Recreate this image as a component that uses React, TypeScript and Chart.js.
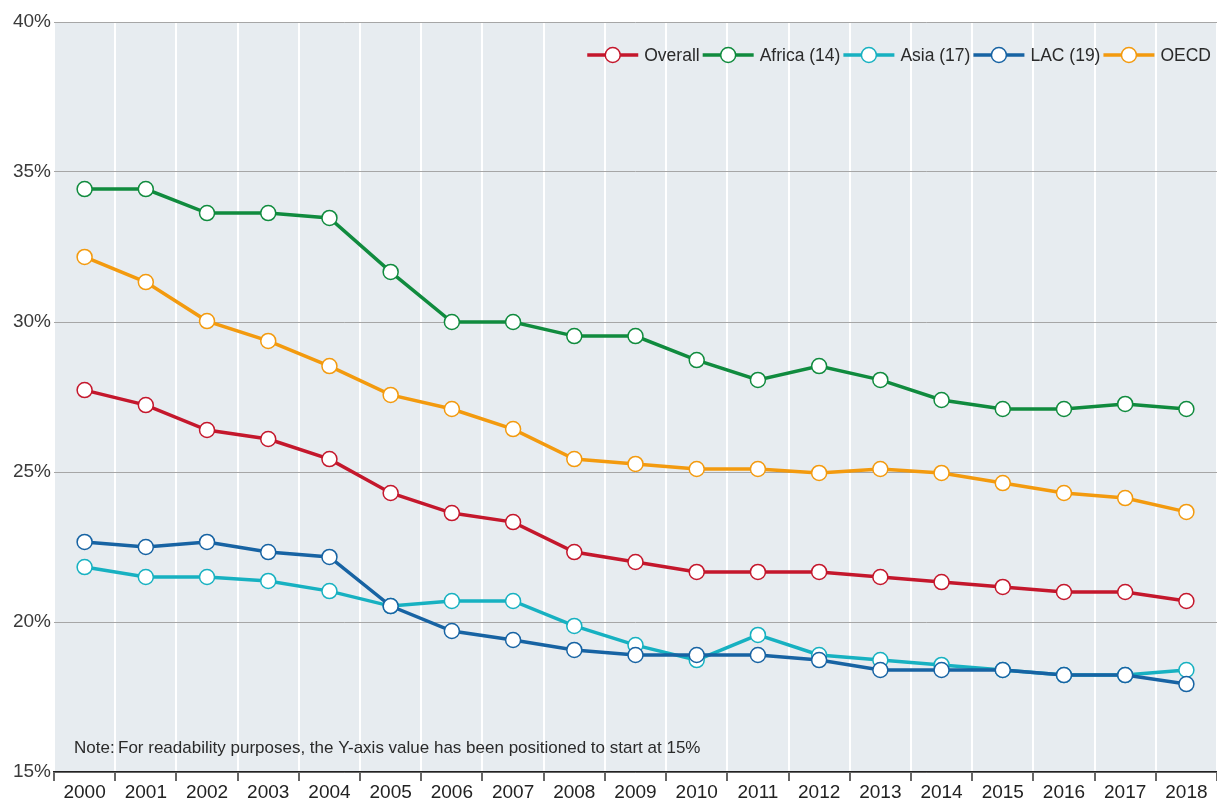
import React, { useEffect, useRef } from "react";
import { Chart, registerables } from "chart.js";

Chart.register(...registerables);

const years = ["2000","2001","2002","2003","2004","2005","2006","2007","2008","2009","2010","2011","2012","2013","2014","2015","2016","2017","2018"];
const overall = [27.73,27.23,26.4,26.1,25.43,24.3,23.63,23.33,22.33,22.0,21.67,21.67,21.67,21.5,21.33,21.17,21.0,21.0,20.7];
const africa = [34.43,34.43,33.63,33.63,33.47,31.67,30.0,30.0,29.53,29.53,28.73,28.07,28.53,28.07,27.4,27.1,27.1,27.27,27.1];
const asia = [21.83,21.5,21.5,21.37,21.03,20.53,20.7,20.7,19.87,19.23,18.73,19.57,18.9,18.73,18.57,18.4,18.23,18.23,18.4];
const lac = [22.67,22.5,22.67,22.33,22.17,20.53,19.7,19.4,19.07,18.9,18.9,18.9,18.73,18.4,18.4,18.4,18.23,18.23,17.93];
const oecd = [32.17,31.33,30.03,29.37,28.53,27.57,27.1,26.43,25.43,25.27,25.1,25.1,24.97,25.1,24.97,24.63,24.3,24.13,23.67];
const yTicks = [15, 20, 25, 30, 35, 40];
const noteText = "Note:\u2009For readability purposes, the Y-axis value has been positioned to start at 15%";

const FONT = "'Liberation Sans', Arial, Helvetica, sans-serif";

const series = [
  { label: "Overall", data: overall, color: "#c4172c", order: 3 },
  { label: "Africa (14)", data: africa, color: "#108b3e", order: 4 },
  { label: "Asia (17)", data: asia, color: "#17b1c1", order: 2 },
  { label: "LAC (19)", data: lac, color: "#1763a3", order: 1 },
  { label: "OECD", data: oecd, color: "#f39a0e", order: 5 },
];

const bgPlugin = {
  id: "bgPlugin",
  beforeDraw(chart: any) {
    const { ctx, chartArea } = chart;
    ctx.save();
    ctx.fillStyle = "#e7ecf0";
    ctx.fillRect(chartArea.left, chartArea.top, chartArea.right - chartArea.left, chartArea.bottom - chartArea.top);
    ctx.restore();
  },
};

const legendNotePlugin = {
  id: "legendNote",
  afterDraw(chart: any) {
    const { ctx, chartArea } = chart;
    ctx.save();
    // note
    ctx.font = `17px ${FONT}`;
    ctx.fillStyle = "#2a2a2a";
    ctx.textBaseline = "middle";
    ctx.textAlign = "left";
    ctx.fillText(noteText, chartArea.left + 20, 748);
    // legend
    ctx.font = `17.5px ${FONT}`;
    const lineW = 51;
    const gap1 = 6;
    const gap2 = 3;
    const widths = series.map((s) => ctx.measureText(s.label).width);
    let total = 0;
    widths.forEach((w, i) => {
      total += lineW + gap1 + w + (i < widths.length - 1 ? gap2 : 0);
    });
    let x = 1211 - total;
    const y = 55;
    series.forEach((s, i) => {
      ctx.strokeStyle = s.color;
      ctx.lineWidth = 3.5;
      ctx.beginPath();
      ctx.moveTo(x, y);
      ctx.lineTo(x + lineW, y);
      ctx.stroke();
      ctx.beginPath();
      ctx.arc(x + lineW / 2, y, 7.5, 0, Math.PI * 2);
      ctx.fillStyle = "#fff";
      ctx.fill();
      ctx.lineWidth = 1.5;
      ctx.stroke();
      ctx.fillStyle = "#2a2a2a";
      ctx.fillText(s.label, x + lineW + gap1, y + 1);
      x += lineW + gap1 + widths[i] + gap2;
    });
    ctx.restore();
  },
};

export default function App() {
  const ref = useRef<HTMLCanvasElement>(null);
  useEffect(() => {
    document.body.style.margin = "0";
    const chart = new Chart(ref.current!, {
      type: "line",
      data: {
        labels: years,
        datasets: series.map((s) => ({
          label: s.label,
          data: s.data,
          borderColor: s.color,
          backgroundColor: "#ffffff",
          pointBackgroundColor: "#ffffff",
          pointBorderColor: s.color,
          pointBorderWidth: 1.5,
          pointRadius: 7.5,
          borderWidth: 3.5,
          tension: 0,
          order: s.order,
          clip: false as any,
        })),
      },
      options: {
        responsive: false,
        animation: false,
        layout: { autoPadding: false, padding: { top: 22, right: 0, left: 0, bottom: 0 } },
        plugins: { legend: { display: false }, tooltip: { enabled: false } },
        scales: {
          x: {
            offset: true,
            grid: {
              offset: true,
              color: "#ffffff",
              lineWidth: 2,
              tickColor: "#333333",
              tickLength: 9,
              tickWidth: 1.5,
              drawOnChartArea: true,
            },
            border: { color: "#222222", width: 1.5 },
            ticks: {
              color: "#222222",
              font: { family: FONT, size: 19 },
              padding: 0,
              maxRotation: 0,
              autoSkip: false,
            },
            afterFit(scale: any) {
              scale.height = 28;
              scale.paddingLeft = 0;
              scale.paddingRight = 0;
            },
          },
          y: {
            min: 15,
            max: 40,
            afterBuildTicks(scale: any) {
              scale.ticks = yTicks.map((v) => ({ value: v }));
            },
            grid: { color: "#a6a6a6", lineWidth: 1, drawTicks: false },
            border: { display: false },
            ticks: {
              color: "#3a3a3a",
              font: { family: FONT, size: 19 },
              padding: 3,
              callback: (v: any) => v + "%",
            },
            afterFit(scale: any) {
              scale.width = 54;
              scale.paddingTop = 0;
              scale.paddingBottom = 0;
            },
          },
        },
      },
      plugins: [bgPlugin, legendNotePlugin],
    });
    return () => chart.destroy();
  }, []);
  return (
    <div style={{ position: "absolute", left: 0, top: 0, width: 1217, height: 800, overflow: "hidden" }}>
      <canvas ref={ref} width={1217} height={800} style={{ display: "block", width: 1217, height: 800 }} />
    </div>
  );
}
